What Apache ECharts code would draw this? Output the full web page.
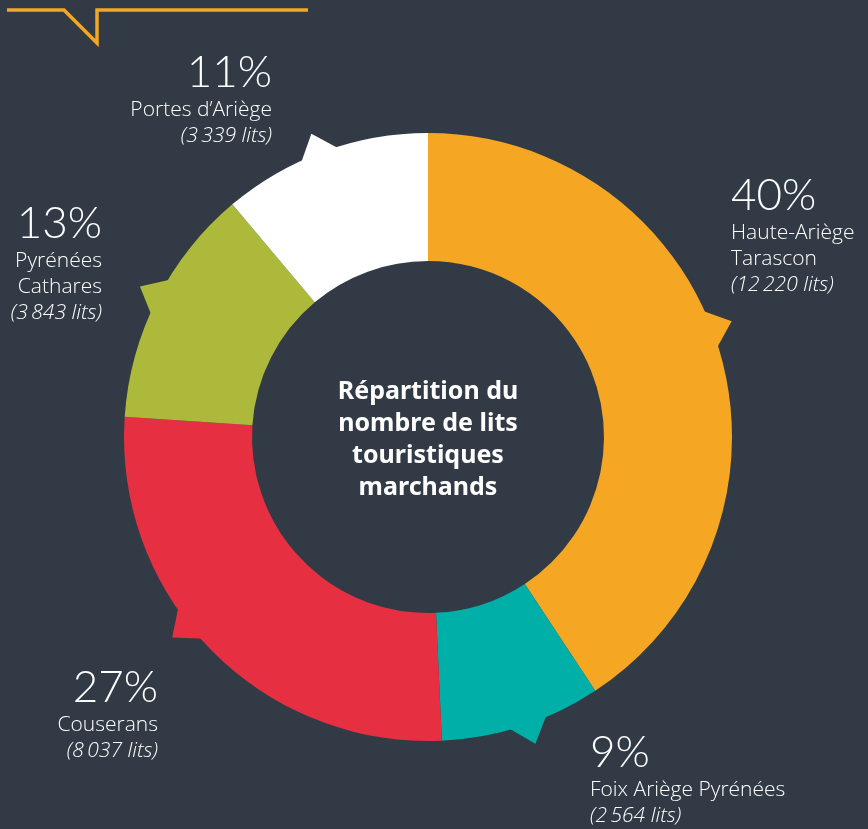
<!DOCTYPE html>
<html>
<head>
<meta charset="utf-8">
<script src="https://cdn.jsdelivr.net/npm/echarts@6/dist/echarts.min.js"></script>
<style>
html, body { margin: 0; padding: 0; background: #323b45; }
#main { width: 868px; height: 829px; }
</style>
</head>
<body>
<div id="main"></div>
<script>
// données : lits touristiques marchands par territoire
var categories = ['Haute-Ariège\nTarascon', 'Foix Ariège Pyrénées', 'Couserans', 'Pyrénées\nCathares', 'Portes d\u2019Ariège'];
var beds = [12220, 2564, 8037, 3843, 3339];
var pctLabels = ['40%', '9%', '27%', '13%', '11%'];
var colors = ['#f5a623', '#00b0a8', '#e63042', '#adb93a', '#ffffff'];

// position des étiquettes [x, y, align]
var labelAnchors = [
	[731, 172, 'left'],
	[590, 729, 'left'],
	[158, 664, 'right'],
	[102, 200, 'right'],
	[272, 49, 'right']
];
// décalage angulaire des pointes (degrés)
var tabShift = [-4.2, -1.3, 6.3, 0.7, -1];

var cx = 428, cy = 437, rIn = 176, rOut = 304;
var fontFam = 'Lato, "Noto Sans", sans-serif';
var textFam = '"Open Sans", Lato, sans-serif';

function fmtNum(n) {
	return String(n).replace(/\B(?=(\d{3})+(?!\d))/g, '\u2009');
}

// petites pointes vers les étiquettes
function buildTabs() {
	var total = beds.reduce(function (a, b) { return a + b; }, 0);
	var acc = 0, tabs = [];
	var pt = function (ang, r) { return [cx + r * Math.sin(ang), cy - r * Math.cos(ang)]; };
	for (var i = 0; i < beds.length; i++) {
		var mid = ((acc + beds[i] / 2) / total * 360 + tabShift[i]) * Math.PI / 180;
		acc += beds[i];
		var w = 4.2 * Math.PI / 180;
		tabs.push({
			type: 'polygon',
			z: 1,
			shape: { points: [pt(mid - w, rOut - 4), pt(mid, rOut + 21), pt(mid + w, rOut - 4)] },
			style: { fill: colors[i] },
			silent: true
		});
	}
	return tabs;
}

var chart = echarts.init(document.getElementById('main'));
var seriesData = [];
for (var i = 0; i < categories.length; i++) {
	seriesData.push({ name: categories[i], value: beds[i], itemStyle: { color: colors[i] } });
}

var option = {
	backgroundColor: '#323b45',
	animation: false,
	graphic: [
		{
			type: 'polyline',
			shape: { points: [[7, 10], [64, 10], [97, 43], [97, 10], [308, 10]] },
			style: { stroke: '#f5a623', lineWidth: 3.5, fill: null }
		},
		{
			type: 'text',
			z: 10,
			style: {
				x: cx, y: cy + 3,
				text: 'Répartition du\nnombre de lits\ntouristiques\nmarchands',
				fill: '#ffffff',
				font: 'bold 25px "Noto Sans", "Open Sans", sans-serif',
				textAlign: 'center',
				textVerticalAlign: 'middle',
				lineHeight: 32
			}
		}
	].concat(buildTabs()),
	series: [{
		type: 'pie',
		z: 2,
		center: [cx, cy],
		radius: [rIn, rOut],
		startAngle: 90,
		clockwise: true,
		avoidLabelOverlap: false,
		silent: true,
		labelLine: { show: false },
		label: {
			show: true,
			position: 'outside',
			color: '#ffffff',
			fontFamily: textFam,
			formatter: function (p) {
				var lines = ['{p|' + pctLabels[p.dataIndex] + '}'];
				p.name.split('\n').forEach(function (s) { lines.push('{n|' + s + '}'); });
				lines.push('{v|(' + fmtNum(p.value) + ' lits)}');
				return lines.join('\n');
			},
			rich: {
				p: { fontSize: 44, fontWeight: 300, lineHeight: 48, color: '#ffffff', fontFamily: fontFam },
				n: { fontSize: 21, fontWeight: 300, lineHeight: 26, color: '#ffffff', fontFamily: textFam },
				v: { fontSize: 21, fontWeight: 300, fontStyle: 'italic', lineHeight: 26, color: '#ffffff', fontFamily: textFam }
			}
		},
		labelLayout: function (p) {
			var a = labelAnchors[p.dataIndex];
			return { x: a[0], y: a[1], align: a[2], verticalAlign: 'top' };
		},
		data: seriesData
	}]
};
chart.setOption(option);
</script>
</body>
</html>
